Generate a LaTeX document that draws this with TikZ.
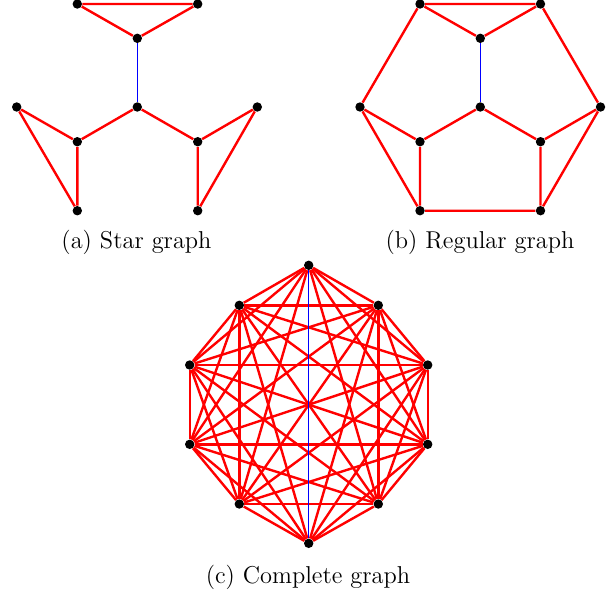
\documentclass[tikz,border=0pt]{standalone}
\begin{document}
\begin{tikzpicture}[x=0.5pt,y=-0.5pt,
  dot/.style={circle,fill=black,inner sep=0pt,minimum size=4.7pt},
  redge/.style={red,line width=1.2pt},
  bedge/.style={blue,line width=0.7pt},
  captext/.style={anchor=base,font=\fontsize{12.2}{14}\selectfont,inner sep=0pt}]
\useasboundingbox (0,0) rectangle (613,596);
% (a) Star graph
\node[dot] (a1) at (77.3,4) {};
\node[dot] (a2) at (197.7,4) {};
\node[dot] (a3) at (137.3,38.3) {};
\node[dot] (a4) at (137.3,107) {};
\node[dot] (a5) at (16.7,107) {};
\node[dot] (a6) at (257.3,107) {};
\node[dot] (a7) at (77.3,141.7) {};
\node[dot] (a8) at (197.7,141.7) {};
\node[dot] (a9) at (77.3,210.7) {};
\node[dot] (a10) at (197.7,210.7) {};
\draw[redge] (a1)--(a2) (a1)--(a3) (a2)--(a3)
  (a4)--(a7) (a4)--(a8) (a5)--(a7) (a5)--(a9) (a7)--(a9)
  (a6)--(a8) (a6)--(a10) (a8)--(a10);
\draw[bedge] (a3)--(a4);
\node[captext] (capa) at (136.5,248) {(a) Star graph};
% (b) Regular graph
\node[dot] (b1) at (420,4) {};
\node[dot] (b2) at (540.5,4) {};
\node[dot] (b3) at (480.3,38.3) {};
\node[dot] (b4) at (480.3,107) {};
\node[dot] (b5) at (360,107) {};
\node[dot] (b6) at (600.5,107) {};
\node[dot] (b7) at (420,141.7) {};
\node[dot] (b8) at (540.5,141.7) {};
\node[dot] (b9) at (420,210.7) {};
\node[dot] (b10) at (540.5,210.7) {};
\draw[redge] (b1)--(b2) (b1)--(b3) (b2)--(b3)
  (b4)--(b7) (b4)--(b8) (b5)--(b1) (b5)--(b7) (b5)--(b9) (b7)--(b9)
  (b9)--(b10) (b6)--(b2) (b6)--(b8) (b6)--(b10) (b8)--(b10);
\draw[bedge] (b3)--(b4);
\node[captext] (capb) at (480,248) {(b) Regular graph};
% (c) Complete graph
\node[dot] (c1) at (308.7,265.3) {};
\node[dot] (c2) at (378.3,305.3) {};
\node[dot] (c3) at (427.7,365) {};
\node[dot] (c4) at (427.7,444.3) {};
\node[dot] (c5) at (378.3,504) {};
\node[dot] (c6) at (308.7,543.3) {};
\node[dot] (c7) at (239.3,504) {};
\node[dot] (c8) at (189.7,444.3) {};
\node[dot] (c9) at (189.7,365) {};
\node[dot] (c10) at (239.3,305.3) {};
\foreach \i in {1,...,9}{
  \pgfmathtruncatemacro{\s}{\i+1}
  \foreach \j in {\s,...,10}{
    \ifnum\i=1 \ifnum\j=6 \else \draw[redge] (c\i)--(c\j); \fi
    \else \draw[redge] (c\i)--(c\j); \fi
  }
}
\draw[bedge] (c1)--(c6);
\node[captext] (capc) at (308,583) {(c) Complete graph};
\end{tikzpicture}
\end{document}
